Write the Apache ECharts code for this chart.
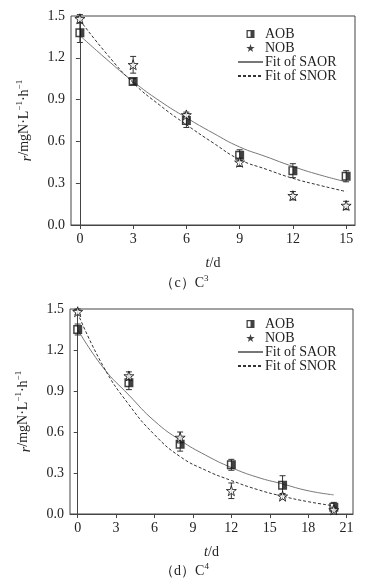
<!DOCTYPE html>
<html><head><meta charset="utf-8">
<script src="https://cdn.jsdelivr.net/npm/echarts@6/dist/echarts.min.js"></script>
<style>html,body{margin:0;padding:0;background:#fff}#c{width:369px;height:587px}</style>
</head><body><div id="c"></div>
<script>
// ---- data: panel (c) C3 ----
const tC3 = [0, 3, 6, 9, 12, 15];
const aobC3 = [1.38, 1.03, 0.75, 0.50, 0.39, 0.35];
const aobErrC3 = [0.07, 0.02, 0.05, 0.04, 0.05, 0.04];
const nobC3 = [1.48, 1.15, 0.79, 0.45, 0.21, 0.14];
const nobErrC3 = [0.03, 0.06, 0.02, 0.03, 0.03, 0.03];
const fitTC3 = [0, 1.5, 3, 4.5, 6, 7.5, 9, 10.5, 12, 13.5, 15];
const saorC3 = [1.36, 1.19, 1.03, 0.89, 0.77, 0.66, 0.56, 0.49, 0.42, 0.36, 0.31];
const snorC3 = [1.47, 1.23, 1.02, 0.86, 0.72, 0.59, 0.47, 0.40, 0.335, 0.285, 0.24];
const xTicksC3 = [0, 3, 6, 9, 12, 15];
// ---- data: panel (d) C4 ----
const tC4 = [0, 4, 8, 12, 16, 20];
const aobC4 = [1.35, 0.96, 0.51, 0.36, 0.21, 0.05];
const aobErrC4 = [0.04, 0.05, 0.05, 0.04, 0.07, 0.035];
const nobC4 = [1.48, 1.01, 0.56, 0.17, 0.13, 0.03];
const nobErrC4 = [0.02, 0.03, 0.04, 0.057, 0.02, 0.02];
const fitTC4 = [0, 2, 4, 6, 8, 10, 12, 14, 16, 18, 20];
const saorC4 = [1.35, 1.07, 0.87, 0.68, 0.54, 0.43, 0.34, 0.27, 0.22, 0.17, 0.14];
const snorC4 = [1.47, 1.08, 0.80, 0.58, 0.42, 0.32, 0.245, 0.18, 0.13, 0.09, 0.06];
const xTicksC4 = [0, 3, 6, 9, 12, 15, 18, 21];
const legendNames = ['AOB', 'NOB', 'Fit of SAOR', 'Fit of SNOR'];

const FONT = 'Liberation Serif';
const INK = '#222';
const aobSymbol = 'path://M0,0 L10,0 L10,10 L0,10 Z M1.6,1.6 L1.6,8.4 L5,8.4 L5,1.6 Z';
const starSymbol = 'path://M5,0 L6.2,3.6 L10,3.6 L6.9,5.8 L8.1,9.5 L5,7.2 L1.9,9.5 L3.1,5.8 L0,3.6 L3.8,3.6 Z';

function errData(t, v, e) { return t.map((x, i) => [x, v[i] - e[i], v[i] + e[i]]); }
function pairs(t, v) { return t.map((x, i) => [x, v[i]]); }

function errSeries(idx, data) {
  return {
    type: 'custom', xAxisIndex: idx, yAxisIndex: idx, silent: true, z: 3,
    renderItem: function (params, api) {
      const x = api.value(0);
      const lo = api.coord([x, api.value(1)]);
      const hi = api.coord([x, api.value(2)]);
      const w = 3;
      const st = { stroke: '#333', lineWidth: 1 };
      return { type: 'group', children: [
        { type: 'line', shape: { x1: lo[0], y1: lo[1], x2: hi[0], y2: hi[1] }, style: st },
        { type: 'line', shape: { x1: lo[0] - w, y1: lo[1], x2: lo[0] + w, y2: lo[1] }, style: st },
        { type: 'line', shape: { x1: hi[0] - w, y1: hi[1], x2: hi[0] + w, y2: hi[1] }, style: st }
      ]};
    },
    encode: { x: 0, y: [1, 2] },
    data: data
  };
}

function panelSeries(idx, t, aob, aobE, nob, nobE, ft, saor, snor) {
  return [
    errSeries(idx, errData(t, aob, aobE)),
    errSeries(idx, errData(t, nob, nobE)),
    { name: legendNames[2], type: 'line', xAxisIndex: idx, yAxisIndex: idx, smooth: true, symbol: 'none',
      lineStyle: { color: '#777', width: 1 }, itemStyle: { color: '#777' }, data: pairs(ft, saor), z: 2 },
    { name: legendNames[3], type: 'line', xAxisIndex: idx, yAxisIndex: idx, smooth: true, symbol: 'none',
      lineStyle: { color: '#333', width: 1, type: [3, 2] }, itemStyle: { color: '#333' }, data: pairs(ft, snor), z: 2 },
    { name: legendNames[0], type: 'scatter', xAxisIndex: idx, yAxisIndex: idx, symbol: aobSymbol, symbolSize: 9,
      itemStyle: { color: '#111' }, data: pairs(t, aob), z: 4 },
    { name: legendNames[1], type: 'scatter', xAxisIndex: idx, yAxisIndex: idx, symbol: starSymbol, symbolSize: 10,
      itemStyle: { color: '#fff', borderColor: '#111', borderWidth: 1 }, data: pairs(t, nob), z: 5 }
  ];
}

const axisLine = { show: true, lineStyle: { color: '#444', width: 1 } };
const labelStyle = { fontFamily: FONT, fontSize: 14, color: INK };

function xAxis(idx, min, max, ticks) {
  return {
    type: 'value', gridIndex: idx, min: min, max: max,
    name: '{i|t}/d', nameLocation: 'middle', nameGap: 31,
    nameTextStyle: { fontFamily: FONT, fontSize: 14, color: INK, rich: { i: { fontFamily: FONT, fontStyle: 'italic', fontSize: 14, color: INK } } },
    axisLine: axisLine, splitLine: { show: false },
    axisTick: { show: true, inside: false, length: 4, customValues: ticks, lineStyle: { color: '#444' } },
    axisLabel: Object.assign({ customValues: ticks, margin: 7, showMinLabel: true, showMaxLabel: true }, labelStyle)
  };
}
function yAxis(idx) {
  return {
    type: 'value', gridIndex: idx, min: 0, max: 1.5, interval: 0.3,
    name: '{i|r}/mgN·L{s|−1}·h{s|−1}', nameLocation: 'middle', nameGap: 37,
    nameTextStyle: { fontFamily: FONT, fontSize: 14, color: INK,
      rich: { i: { fontFamily: FONT, fontStyle: 'italic', fontSize: 14, color: INK, verticalAlign: 'bottom', lineHeight: 19 },
              s: { fontFamily: FONT, fontSize: 9, color: INK, verticalAlign: 'top', lineHeight: 19 } } },
    axisLine: axisLine, splitLine: { show: false },
    axisTick: { show: true, inside: false, length: 4, lineStyle: { color: '#444' } },
    axisLabel: Object.assign({ margin: 6, formatter: v => v.toFixed(1) }, labelStyle)
  };
}
function legend(top) {
  return {
    orient: 'vertical', left: 237, top: top, padding: 0, itemWidth: 25, itemHeight: 8, itemGap: 0,
    selectedMode: false,
    data: [
      { name: legendNames[0] },
      { name: legendNames[1], icon: starSymbol, itemStyle: { color: '#111', borderColor: '#111', borderWidth: 0 } },
      { name: legendNames[2], itemStyle: { opacity: 0 } },
      { name: legendNames[3], itemStyle: { opacity: 0 } }
    ],
    textStyle: { fontFamily: FONT, fontSize: 14, color: INK, padding: [0, 0, 0, -3] }
  };
}
function caption(text, top) {
  return { text: text, left: 'center', top: top, padding: 0,
    textStyle: { fontFamily: FONT, fontSize: 14, fontWeight: 'normal', color: INK,
      rich: { s: { fontFamily: FONT, fontSize: 9, color: INK, verticalAlign: 'top', lineHeight: 18 },
              n: { fontFamily: FONT, fontSize: 14, color: INK, lineHeight: 18 } } } };
}

const chart = echarts.init(document.getElementById('c'), null, { renderer: 'canvas' });
chart.setOption({
  animation: false,
  backgroundColor: '#fff',
  grid: [
    { left: 71, top: 16, right: 14, height: 209, show: true, borderColor: '#444', borderWidth: 1, containLabel: false },
    { left: 70, top: 309, right: 16, height: 205, show: true, borderColor: '#444', borderWidth: 1, containLabel: false }
  ],
  title: [caption('{n|（c）C}{s|3}', 274), caption('{n|（d）C}{s|4}', 562)],
  legend: [legend(27), legend(317)],
  xAxis: [xAxis(0, -0.5, 15.5, xTicksC3), xAxis(1, -0.6, 21.5, xTicksC4)],
  yAxis: [yAxis(0), yAxis(1)],
  series: [].concat(
    panelSeries(0, tC3, aobC3, aobErrC3, nobC3, nobErrC3, fitTC3, saorC3, snorC3),
    panelSeries(1, tC4, aobC4, aobErrC4, nobC4, nobErrC4, fitTC4, saorC4, snorC4)
  )
});
</script></body></html>
